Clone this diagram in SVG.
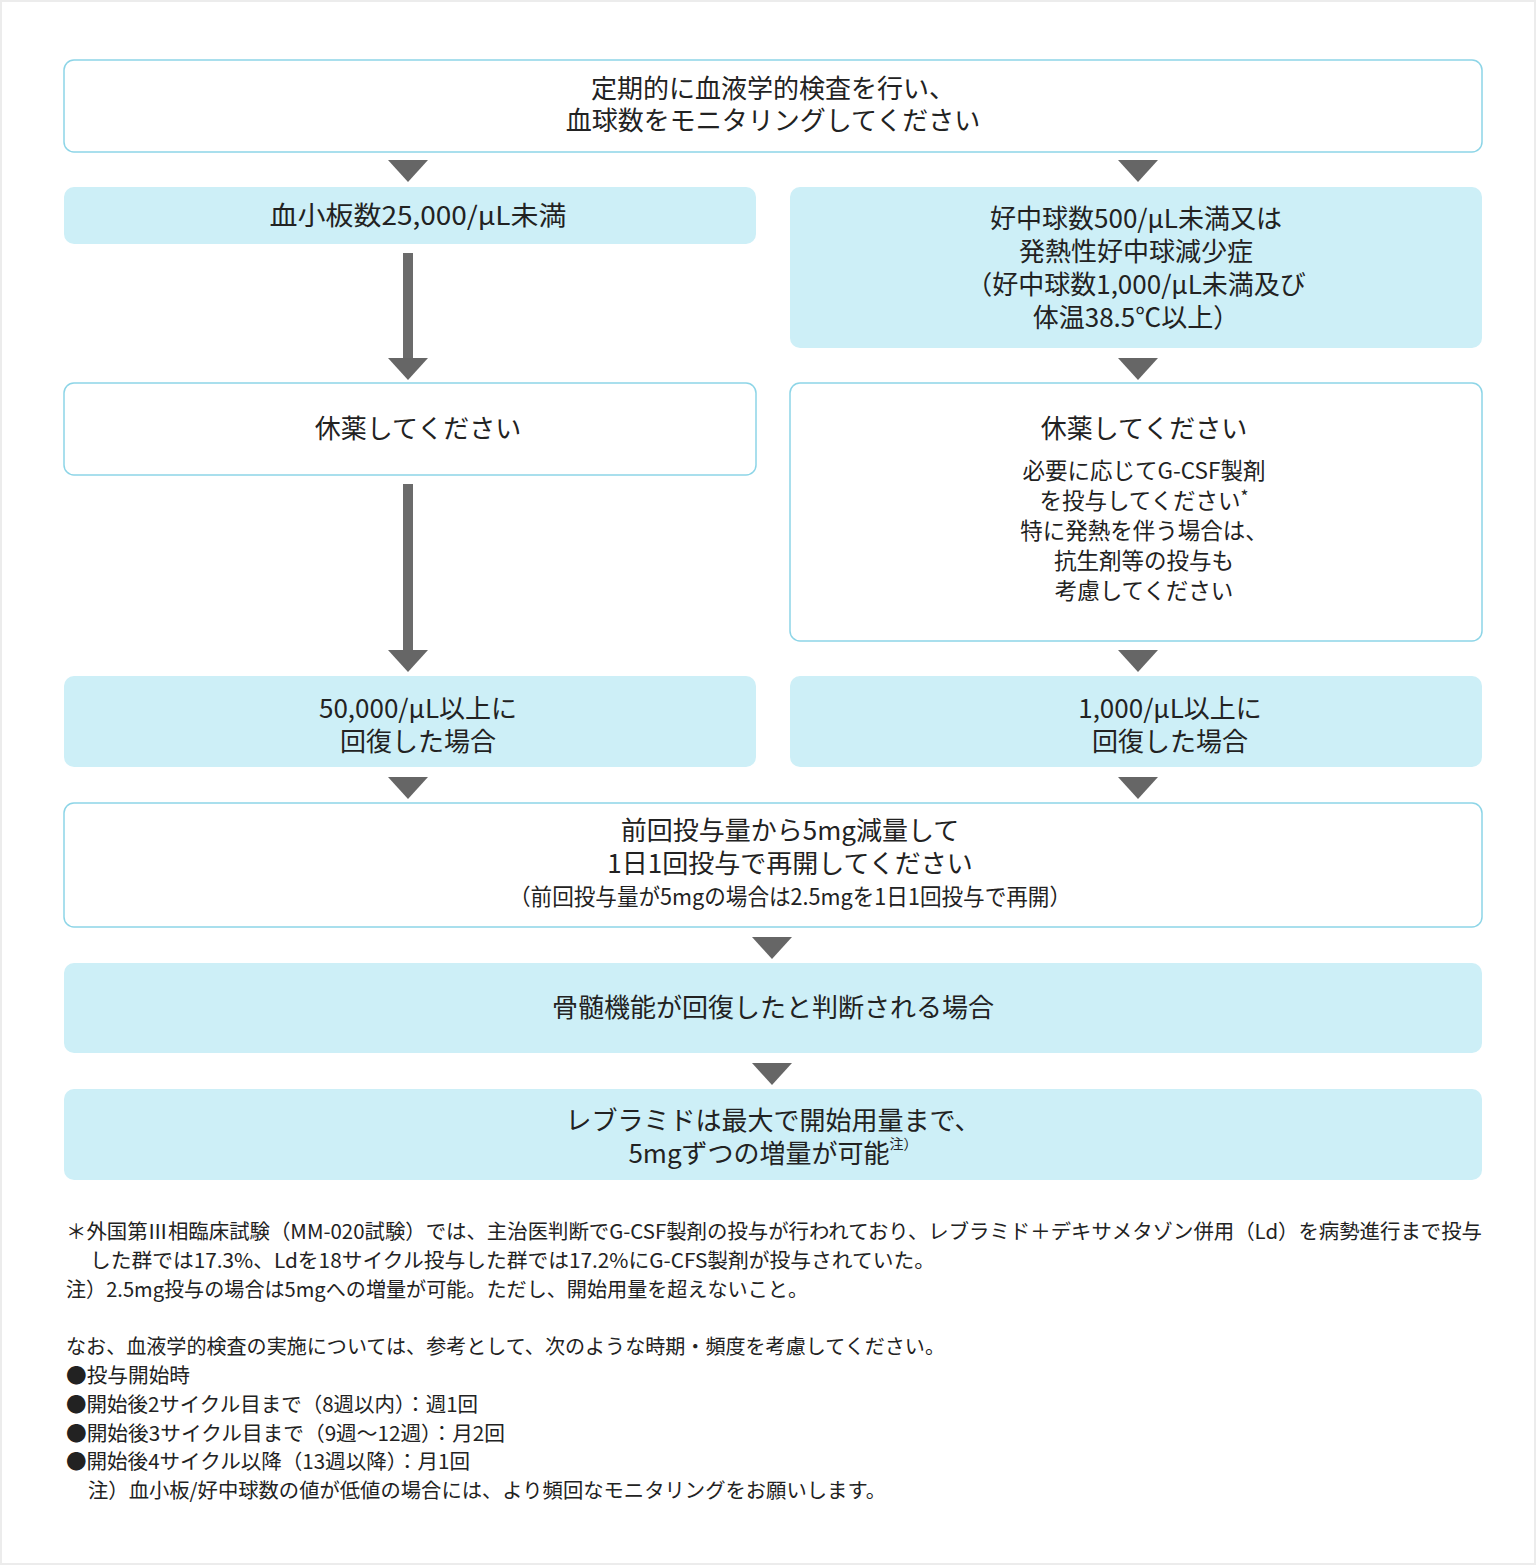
<svg xmlns="http://www.w3.org/2000/svg" width="1536" height="1565" viewBox="0 0 1536 1565">
<style>
.t{font-family:"Noto Sans CJK JP","Noto Sans",sans-serif;fill:#222;text-anchor:middle;dominant-baseline:central}
.b{font-size:26px}
.s{font-size:22.5px}
.f{font-family:"Noto Sans CJK JP","Noto Sans",sans-serif;fill:#222;font-size:20.5px;dominant-baseline:central}
.w{fill:#fff;stroke:#8dd5e7;stroke-width:1.5}
.c{fill:#cdeff7}
.tri{fill:#666}
</style>
<rect x="0" y="0" width="1536" height="1565" fill="#ececec"/>
<rect x="2" y="2" width="1532" height="1561" fill="#fff"/>
<g id="connectors">
<polygon class="tri" points="388,160 428,160 408,182"/>
<polygon class="tri" points="1118,160 1158,160 1138,182"/>
<rect x="403" y="253" width="10" height="106" fill="#6b6b6b"/>
<polygon class="tri" points="388,358 428,358 408,380"/>
<polygon class="tri" points="1118,358 1158,358 1138,380"/>
<rect x="403" y="484" width="10" height="167" fill="#6b6b6b"/>
<polygon class="tri" points="388,650 428,650 408,672"/>
<polygon class="tri" points="1118,650 1158,650 1138,672"/>
<polygon class="tri" points="388,777 428,777 408,799"/>
<polygon class="tri" points="1118,777 1158,777 1138,799"/>
<polygon class="tri" points="752,937 792,937 772,959"/>
<polygon class="tri" points="752,1063 792,1063 772,1085"/>
</g>
<g id="n1">
<rect class="w" x="64" y="60" width="1418" height="92" rx="10"/>
<text class="t b" x="773" y="86">定期的に血液学的検査を行い、</text>
<text class="t b" x="773" y="118">血球数をモニタリングしてください</text>
</g>
<g id="n2l">
<rect class="c" x="64" y="187" width="692" height="57" rx="10"/>
<text class="t b" x="418" y="213" textLength="297" lengthAdjust="spacingAndGlyphs">血小板数25,000/μL未満</text>
</g>
<g id="n2r">
<rect class="c" x="790" y="187" width="692" height="161" rx="10"/>
<text class="t b" x="1136" y="216">好中球数500/μL未満又は</text>
<text class="t b" x="1136" y="249">発熱性好中球減少症</text>
<text class="t b" x="1136" y="282">（好中球数1,000/μL未満及び</text>
<text class="t b" x="1136" y="315">体温38.5℃以上）</text>
</g>
<g id="n3l">
<rect class="w" x="64" y="383" width="692" height="92" rx="10"/>
<text class="t b" x="418" y="426">休薬してください</text>
</g>
<g id="n3r">
<rect class="w" x="790" y="383" width="692" height="258" rx="10"/>
<text class="t b" x="1144" y="426">休薬してください</text>
<text class="t s" x="1144" y="469">必要に応じてG-CSF製剤</text>
<text class="t s" x="1144" y="499">を投与してください<tspan font-size="17" dy="-4">*</tspan></text>
<text class="t s" x="1144" y="529">特に発熱を伴う場合は、</text>
<text class="t s" x="1144" y="559">抗生剤等の投与も</text>
<text class="t s" x="1144" y="589">考慮してください</text>
</g>
<g id="n4l">
<rect class="c" x="64" y="676" width="692" height="91" rx="10"/>
<text class="t b" x="418" y="706">50,000/μL以上に</text>
<text class="t b" x="418" y="739">回復した場合</text>
</g>
<g id="n4r">
<rect class="c" x="790" y="676" width="692" height="91" rx="10"/>
<text class="t b" x="1170" y="706">1,000/μL以上に</text>
<text class="t b" x="1170" y="739">回復した場合</text>
</g>
<g id="n5">
<rect class="w" x="64" y="803" width="1418" height="124" rx="10"/>
<text class="t b" x="790" y="828">前回投与量から5mg減量して</text>
<text class="t b" x="790" y="861">1日1回投与で再開してください</text>
<text class="t s" x="790" y="895" textLength="562" lengthAdjust="spacingAndGlyphs">（前回投与量が5mgの場合は2.5mgを1日1回投与で再開）</text>
</g>
<g id="n6">
<rect class="c" x="64" y="963" width="1418" height="90" rx="10"/>
<text class="t b" x="773" y="1005">骨髄機能が回復したと判断される場合</text>
</g>
<g id="n7">
<rect class="c" x="64" y="1089" width="1418" height="91" rx="10"/>
<text class="t b" x="773" y="1118">レブラミドは最大で開始用量まで、</text>
<text class="t b" x="773" y="1151">5mgずつの増量が可能<tspan font-size="14" dy="-8">注）</tspan></text>
</g>
<g id="notes">
<text class="f" x="66" y="1230" textLength="1416" lengthAdjust="spacingAndGlyphs">＊外国第Ⅲ相臨床試験（MM-020試験）では、主治医判断でG-CSF製剤の投与が行われており、レブラミド＋デキサメタゾン併用（Ld）を病勢進行まで投与</text>
<text class="f" x="90" y="1259" textLength="845" lengthAdjust="spacingAndGlyphs">した群では17.3%、Ldを18サイクル投与した群では17.2%にG-CFS製剤が投与されていた。</text>
<text class="f" x="66" y="1288" textLength="742" lengthAdjust="spacingAndGlyphs">注）2.5mg投与の場合は5mgへの増量が可能。ただし、開始用量を超えないこと。</text>
<text class="f" x="66" y="1345" textLength="879" lengthAdjust="spacingAndGlyphs">なお、血液学的検査の実施については、参考として、次のような時期・頻度を考慮してください。</text>
<text class="f" x="66" y="1374" textLength="124" lengthAdjust="spacingAndGlyphs">●投与開始時</text>
<text class="f" x="66" y="1403" textLength="412" lengthAdjust="spacingAndGlyphs">●開始後2サイクル目まで（8週以内）：週1回</text>
<text class="f" x="66" y="1432" textLength="439" lengthAdjust="spacingAndGlyphs">●開始後3サイクル目まで（9週〜12週）：月2回</text>
<text class="f" x="66" y="1460" textLength="404" lengthAdjust="spacingAndGlyphs">●開始後4サイクル以降（13週以降）：月1回</text>
<text class="f" x="88" y="1489" textLength="798" lengthAdjust="spacingAndGlyphs">注）血小板/好中球数の値が低値の場合には、より頻回なモニタリングをお願いします。</text>
</g>
</svg>
